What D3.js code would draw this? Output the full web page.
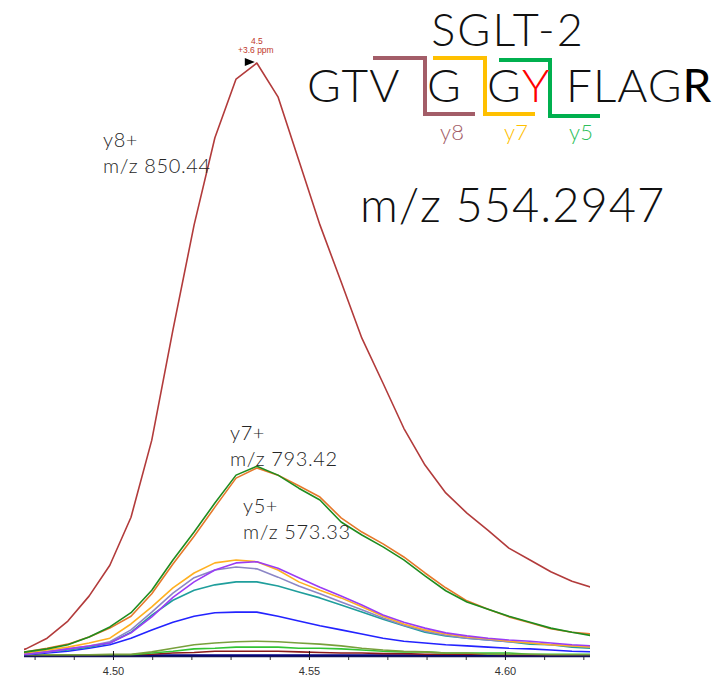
<!DOCTYPE html>
<html>
<head>
<meta charset="utf-8">
<script src="https://cdn.jsdelivr.net/npm/d3@7"></script>
<style>
  body { margin: 0; background: #fff; }
  .ion-label { font-family: Lato, "Open Sans", sans-serif; font-weight: 300; fill: #262626; font-size: 20px; letter-spacing: 0.6px; }
  .head { font-family: Lato, "Open Sans", sans-serif; font-weight: 300; fill: #111; }
  .tick-label { font-family: "Liberation Sans", Arial, sans-serif; font-size: 11px; fill: #333; }
</style>
</head>
<body>
<div id="graphic"></div>
<script>
// retention times (min) of the scans
const TIMES = [4.4724, 4.4778, 4.4832, 4.4885, 4.4939, 4.4992, 4.5046, 4.5099, 4.5153, 4.5207,
  4.5260, 4.5314, 4.5367, 4.5421, 4.5474, 4.5528, 4.5582, 4.5635, 4.5689, 4.5742,
  4.5796, 4.5849, 4.5903, 4.5957, 4.6010, 4.6064, 4.6117, 4.6171, 4.6224];

// relative intensity (%) per fragment trace
const Y8_TRACE = [0.2, 1.2, 3.0, 5.9, 10.1, 15.3, 23.4, 36.4, 55.0, 72.7, 87.4, 97.3, 100, 94.3, 83.6,
  72.7, 63.1, 53.6, 46.0, 38.4, 32.2, 27.5, 24.1, 21.2, 18.2, 16.2, 14.2, 12.6, 11.5];
const Y7_TRACE = [0.2, 0.7, 1.2, 1.9, 3.2, 4.9, 7.3, 11.1, 16.2, 20.9, 25.8, 30.5, 32.0, 30.5, 28.3,
  26.3, 22.6, 20.4, 18.4, 16.2, 13.5, 11.0, 9.1, 7.9, 6.7, 5.7, 4.7, 4.0, 3.4];
const ORANGE_TRACE = [0.2, 0.7, 1.3, 2.0, 3.2, 4.7, 6.7, 10.5, 15.5, 20.2, 25.1, 30.0, 31.7, 30.5, 28.7,
  26.8, 23.3, 20.9, 18.9, 16.7, 14.0, 11.5, 9.3, 7.9, 6.6, 5.6, 4.6, 4.0, 3.7];
const GOLD_TRACE = [0.2, 0.5, 1.0, 1.5, 2.2, 3.0, 5.4, 8.3, 11.5, 14.0, 15.7, 16.2, 15.9, 14.5, 12.5,
  11.1, 9.8, 8.3, 6.7, 5.4, 4.4, 3.7, 3.2, 2.9, 2.5, 2.2, 1.9, 1.7, 1.5];
const Y5_TRACE = [0.2, 0.3, 0.7, 1.2, 1.7, 2.2, 3.9, 6.6, 9.9, 12.5, 14.5, 15.7, 15.9, 14.8, 13.2,
  11.6, 10.1, 8.6, 6.9, 5.7, 4.7, 3.9, 3.4, 3.0, 2.7, 2.5, 2.2, 1.9, 1.7];
const LAVENDER_TRACE = [0.2, 0.3, 0.7, 1.2, 1.7, 2.4, 4.4, 7.4, 10.6, 13.2, 14.5, 15.0, 14.7, 13.3, 11.8,
  10.5, 9.1, 7.8, 6.4, 5.2, 4.2, 3.5, 3.0, 2.7, 2.4, 2.2, 1.9, 1.7, 1.5];
const TEAL_TRACE = [0.2, 0.3, 0.7, 1.0, 1.5, 2.2, 4.0, 6.9, 9.4, 11.1, 12.0, 12.5, 12.5, 11.8, 10.8,
  9.8, 8.6, 7.4, 6.2, 5.1, 4.0, 3.4, 3.0, 2.7, 2.4, 2.0, 1.9, 1.5, 1.3];
const BLUE_TRACE = [0.2, 0.2, 0.5, 0.8, 1.3, 1.9, 3.0, 4.4, 5.7, 6.7, 7.3, 7.4, 7.4, 6.7, 5.9,
  5.1, 4.4, 3.7, 3.0, 2.5, 2.2, 1.9, 1.7, 1.5, 1.3, 1.2, 1.0, 0.8, 0.7];
const OLIVE_TRACE = [0.2, 0.2, 0.2, 0.2, 0.2, 0.3, 0.3, 0.7, 1.3, 1.9, 2.2, 2.4, 2.5, 2.4, 2.2,
  2.0, 1.7, 1.3, 1.0, 0.8, 0.7, 0.5, 0.5, 0.3, 0.3, 0.3, 0.2, 0.2, 0.2];
const LIME_TRACE = [0.2, 0.2, 0.2, 0.2, 0.2, 0.2, 0.2, 0.5, 0.8, 1.2, 1.3, 1.5, 1.5, 1.5, 1.3,
  1.3, 1.2, 1.0, 0.8, 0.7, 0.7, 0.5, 0.5, 0.5, 0.5, 0.3, 0.3, 0.3, 0.3];
const DARKRED_TRACE = [0.1, 0.1, 0.1, 0.1, 0.1, 0.2, 0.2, 0.3, 0.5, 0.6, 0.8, 0.8, 0.8, 0.8, 0.7,
  0.6, 0.5, 0.5, 0.4, 0.4, 0.3, 0.3, 0.3, 0.3, 0.2, 0.2, 0.2, 0.2, 0.2];
const NAVY_TRACE = [0.1, 0.1, 0.1, 0.1, 0.1, 0.1, 0.1, 0.1, 0.1, 0.1, 0.1, 0.1, 0.1, 0.1, 0.1,
  0.1, 0.1, 0.1, 0.1, 0.1, 0.1, 0.1, 0.1, 0.1, 0.1, 0.1, 0.1, 0.1, 0.1];

const MAJOR_TICKS = [4.50, 4.55, 4.60];
const MINOR_TICKS = [4.48, 4.49, 4.51, 4.52, 4.53, 4.54, 4.56, 4.57, 4.58, 4.59, 4.61, 4.62];
const X_DOMAIN = [4.4773, 4.6217];

const WIDTH = 728;
const HEIGHT = 679;
const X_LEFT = 24;
const X_RIGHT = 590;
const Y_BASE = 656;
const Y_TOP = 63;

var svg;
var xScale;
var yScale;

var traces = [
  { values: NAVY_TRACE, color: "#000080", width: 2.2 },
  { values: DARKRED_TRACE, color: "#8b1a1a", width: 1.6 },
  { values: LIME_TRACE, color: "#33c433", width: 1.6 },
  { values: OLIVE_TRACE, color: "#78a03c", width: 1.6 },
  { values: BLUE_TRACE, color: "#2323ff", width: 1.6 },
  { values: TEAL_TRACE, color: "#1f9e9c", width: 1.6 },
  { values: LAVENDER_TRACE, color: "#8b86c6", width: 1.6 },
  { values: GOLD_TRACE, color: "#ffb020", width: 1.6 },
  { values: Y5_TRACE, color: "#9a3cf5", width: 1.6 },
  { values: ORANGE_TRACE, color: "#e6782a", width: 1.6 },
  { values: Y7_TRACE, color: "#1f8c1f", width: 1.6 },
  { values: Y8_TRACE, color: "#b23b3b", width: 1.6 }
];

function renderLayout() {
  svg = d3.select("#graphic")
    .append("svg")
    .attr("width", WIDTH)
    .attr("height", HEIGHT);

  xScale = d3.scaleLinear()
    .domain(X_DOMAIN)
    .range([X_LEFT, X_RIGHT]);

  yScale = d3.scaleLinear()
    .domain([0, 100])
    .range([Y_BASE, Y_TOP]);

  svg.append("clipPath")
    .attr("id", "plot-clip")
    .append("rect")
    .attr("x", X_LEFT)
    .attr("y", 0)
    .attr("width", X_RIGHT - X_LEFT)
    .attr("height", Y_BASE);
}

function renderLines() {
  var line = d3.line()
    .x((d, i) => xScale(TIMES[i]))
    .y(d => yScale(d));

  svg.append("g")
    .attr("clip-path", "url(#plot-clip)")
    .selectAll("path")
    .data(traces)
    .enter()
    .append("path")
    .attr("fill", "none")
    .attr("stroke", d => d.color)
    .attr("stroke-width", d => d.width)
    .attr("stroke-linejoin", "round")
    .attr("d", d => line(d.values));
}

function renderAxis() {
  var minor = svg.append("g")
    .attr("transform", `translate(0, ${Y_BASE})`)
    .call(d3.axisBottom(xScale).tickValues(MINOR_TICKS).tickSize(4).tickFormat(""));
  minor.select(".domain").remove();
  minor.selectAll("line").attr("stroke", "#333");

  var major = svg.append("g")
    .attr("transform", `translate(0, ${Y_BASE})`)
    .call(d3.axisBottom(xScale).tickValues(MAJOR_TICKS).tickSize(4).tickFormat(d3.format(".2f")));
  major.select(".domain").remove();
  major.selectAll("line")
    .attr("y1", -5)
    .attr("stroke", "#111");
  major.selectAll("text")
    .attr("class", "tick-label")
    .attr("y", 19)
    .attr("dy", 0)
    .attr("fill", null);

  svg.append("line")
    .attr("x1", X_LEFT)
    .attr("x2", X_RIGHT)
    .attr("y1", Y_BASE + 0.5)
    .attr("y2", Y_BASE + 0.5)
    .attr("stroke", "#14145a")
    .attr("stroke-width", 1.5);
}

function renderPeakMarker() {
  var i = Y8_TRACE.indexOf(d3.max(Y8_TRACE));
  var px = xScale(TIMES[i]);
  var py = yScale(Y8_TRACE[i]);

  svg.append("path")
    .attr("d", `M${px - 2},${py - 1} L${px - 12},${py - 5} L${px - 12},${py + 3} Z`)
    .attr("fill", "#000");

  var t = svg.append("text")
    .attr("font-family", "'Liberation Sans', Arial, sans-serif")
    .attr("font-size", 8.5)
    .attr("fill", "#c0392b")
    .attr("text-anchor", "middle");
  t.append("tspan").attr("x", px).attr("y", py - 19).text("4.5");
  t.append("tspan").attr("x", px - 1).attr("y", py - 10).text("+3.6 ppm");
}

function renderIonLabel(x, y, ion, mz) {
  var t = svg.append("text")
    .attr("class", "ion-label");
  t.append("tspan").attr("x", x).attr("y", y).text(ion);
  t.append("tspan").attr("x", x).attr("dy", 26).text(mz);
}

function renderBracket(points, color) {
  svg.append("polyline")
    .attr("points", points.map(p => p.join(",")).join(" "))
    .attr("fill", "none")
    .attr("stroke", color)
    .attr("stroke-width", 4);
}

function renderHeader() {
  svg.append("text")
    .attr("class", "head")
    .attr("x", 508)
    .attr("y", 46)
    .attr("text-anchor", "middle")
    .attr("font-size", 45)
    .attr("letter-spacing", 2)
    .text("SGLT-2");

  renderBracket([[373, 58], [425, 58], [425, 114], [475, 114]], "#a35d68");
  renderBracket([[433, 58], [485, 58], [485, 114], [535, 114]], "#ffc000");
  renderBracket([[499, 60], [550, 60], [550, 116], [600, 116]], "#00b04f");

  var seq = svg.append("g")
    .attr("class", "head")
    .attr("font-size", 46);
  seq.append("text").attr("x", 307).attr("y", 102).attr("letter-spacing", 1).text("GTV");
  seq.append("text").attr("x", 427).attr("y", 102).text("G");
  seq.append("text").attr("x", 487).attr("y", 102).text("G");
  seq.append("text").attr("x", 522).attr("y", 102).style("fill", "#ff0000").text("Y");
  var tail = seq.append("text").attr("x", 566).attr("y", 102).attr("letter-spacing", 1);
  tail.append("tspan").text("FLAG");
  tail.append("tspan").style("font-weight", 400).style("fill", "#000").text("R");

  var cut = svg.append("g")
    .attr("class", "head")
    .attr("font-size", 22)
    .attr("text-anchor", "middle");
  cut.append("text").attr("x", 452).attr("y", 140).style("fill", "#a35d68").text("y8");
  cut.append("text").attr("x", 516).attr("y", 140).style("fill", "#ffc000").text("y7");
  cut.append("text").attr("x", 581).attr("y", 140).style("fill", "#2fbf5b").text("y5");

  svg.append("text")
    .attr("class", "head")
    .attr("x", 360)
    .attr("y", 222)
    .attr("font-size", 47)
    .attr("letter-spacing", 1)
    .text("m/z 554.2947");
}

renderLayout();
renderLines();
renderAxis();
renderPeakMarker();
renderIonLabel(103, 147, "y8+", "m/z 850.44");
renderIonLabel(230, 440, "y7+", "m/z 793.42");
renderIonLabel(243, 513, "y5+", "m/z 573.33");
renderHeader();
</script>
</body>
</html>
